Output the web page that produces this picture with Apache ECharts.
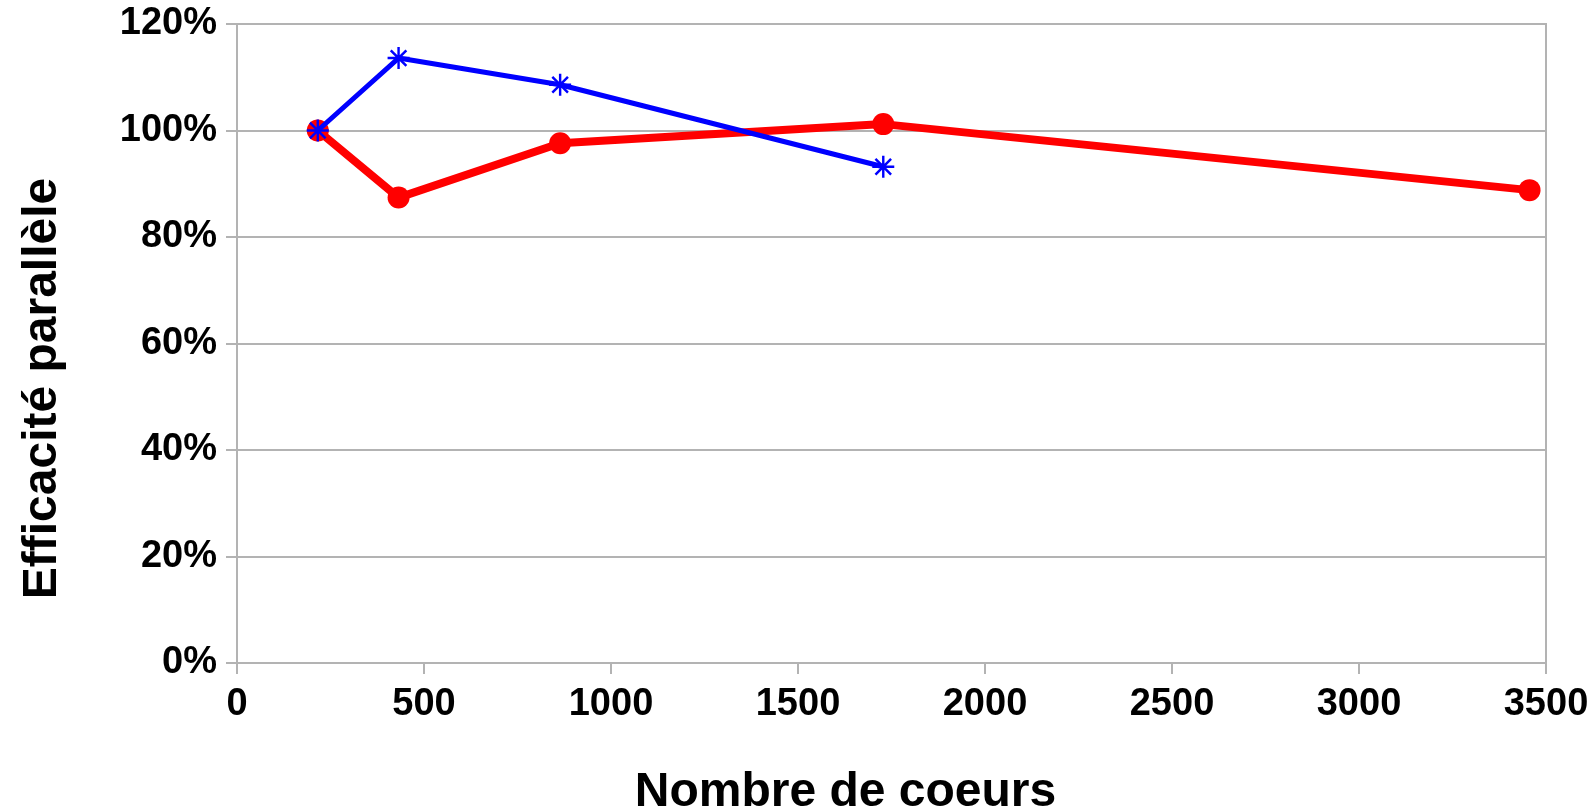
<!DOCTYPE html>
<html><head><meta charset="utf-8">
<script src="https://cdn.jsdelivr.net/npm/echarts@6/dist/echarts.min.js"></script>
<style>html,body{margin:0;padding:0;background:#fff}#c{width:1596px;height:808px}</style>
</head><body><div id="c"></div>
<script>
const cores = [216, 432, 864, 1728, 3456];
const redEff = [1.00, 0.874, 0.976, 1.012, 0.888];
const blueCores = [216, 432, 864, 1728];
const blueEff = [1.00, 1.136, 1.086, 0.932];
const xTitle = 'Nombre de coeurs';
const yTitle = 'Efficacité parallèle';

const asterisk = 'path://M-1.1,-10L1.1,-10L1.1,10L-1.1,10Z M-10,-1.1L10,-1.1L10,1.1L-10,1.1Z M-7.9,-6.3L-6.3,-7.9L7.9,6.3L6.3,7.9Z M6.3,-7.9L7.9,-6.3L-6.3,7.9L-7.9,6.3Z';

const chart = echarts.init(document.getElementById('c'), null, {renderer: 'canvas'});
const font = '"Liberation Sans", Arial, sans-serif';
chart.setOption({
  animation: false,
  backgroundColor: '#fff',
  grid: {left: 237, right: 50, top: 24, bottom: 145, containLabel: false, outerBoundsMode: 'none',
    show: true, borderColor: '#b3b3b3', borderWidth: 2},
  xAxis: {
    type: 'value', min: 0, max: 3500, interval: 500,
    name: xTitle, nameLocation: 'middle', nameGap: 106,
    nameTextStyle: {fontFamily: font, fontWeight: 'bold', fontSize: 48, color: '#000', padding: [0, 92, 0, 0]},
    axisLine: {show: true, lineStyle: {color: '#b3b3b3', width: 2}},
    axisTick: {show: true, length: 11, lineStyle: {color: '#b3b3b3', width: 2}},
    axisLabel: {fontFamily: font, fontWeight: 'bold', fontSize: 38, color: '#000', margin: 23,
      formatter: v => String(v)},
    splitLine: {show: false}
  },
  yAxis: {
    type: 'value', min: 0, max: 1.2, interval: 0.2,
    name: yTitle, nameLocation: 'middle', nameGap: 170, nameRotate: 90,
    nameTextStyle: {fontFamily: font, fontWeight: 'bold', fontSize: 48, color: '#000', padding: [0, 90, 0, 0]},
    axisLine: {show: true, lineStyle: {color: '#b3b3b3', width: 2}},
    axisTick: {show: true, length: 11, lineStyle: {color: '#b3b3b3', width: 2}},
    axisLabel: {fontFamily: font, fontWeight: 'bold', fontSize: 38, color: '#000', margin: 20,
      formatter: v => Math.round(v * 100) + '%'},
    splitLine: {show: true, lineStyle: {color: '#b3b3b3', width: 2}}
  },
  series: [
    {
      type: 'line', data: cores.map((c, i) => [c, redEff[i]]),
      lineStyle: {color: '#ff0000', width: 8}, itemStyle: {color: '#ff0000'},
      symbol: 'circle', symbolSize: 22, z: 2
    },
    {
      type: 'line', data: blueCores.map((c, i) => [c, blueEff[i]]),
      lineStyle: {color: '#0000ff', width: 5}, itemStyle: {color: '#0000ff'},
      symbol: asterisk, symbolSize: 22, z: 3
    }
  ]
});
</script></body></html>
